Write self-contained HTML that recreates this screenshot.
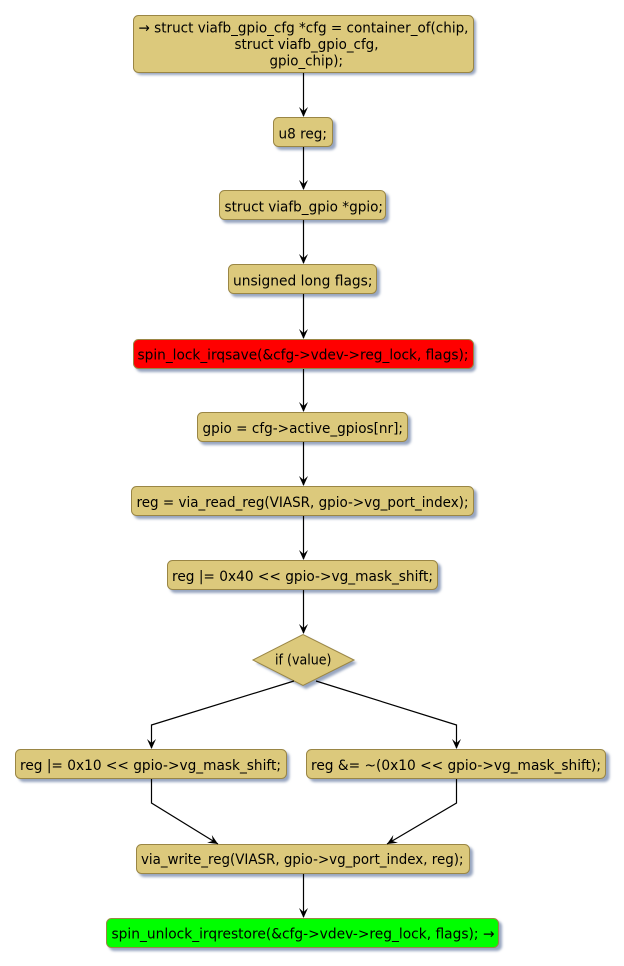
<!DOCTYPE html>
<html><head><meta charset="utf-8"><style>
html,body{margin:0;padding:0;background:#fff;}
svg{display:block;}
text{font-family:"DejaVu Sans","Liberation Sans",sans-serif;font-size:14px;fill:#000;}
</style></head><body>
<svg width="624" height="966" viewBox="0 0 624 966" xmlns="http://www.w3.org/2000/svg">
<defs>
<filter id="sh" x="-10%" y="-20%" width="130%" height="160%">
<feGaussianBlur stdDeviation="1.3"/>
</filter>
</defs>
<!-- shadows -->
<g fill="#97a5c0" filter="url(#sh)">
<rect x="136" y="18" width="340" height="57" rx="5"/>
<rect x="276" y="120" width="60" height="30" rx="5"/>
<rect x="222" y="193" width="167" height="30" rx="5"/>
<rect x="231" y="267" width="149" height="30" rx="5"/>
<rect x="136" y="342" width="340" height="30" rx="5"/>
<rect x="200" y="415" width="211" height="30" rx="5"/>
<rect x="134" y="489" width="343" height="30" rx="5"/>
<rect x="170" y="563" width="271" height="30" rx="5"/>
<polygon points="256,663 306,637 357,663 306,689"/>
<rect x="18.5" y="752" width="271" height="30" rx="5"/>
<rect x="309.5" y="752" width="300" height="30" rx="5"/>
<rect x="139" y="847" width="334" height="30" rx="5"/>
<rect x="109" y="921" width="393" height="30" rx="5"/>
</g>
<!-- boxes -->
<g fill="#dcc97c" stroke="#9a8645" stroke-width="1">
<rect x="133.5" y="15.5" width="340" height="57" rx="5"/>
<rect x="273.5" y="117.5" width="59" height="29" rx="5"/>
<rect x="219.5" y="190.5" width="166" height="29" rx="5"/>
<rect x="228.5" y="264.5" width="148" height="29" rx="5"/>
<rect x="133.5" y="339.5" width="340" height="29" rx="5" fill="#ff0000"/>
<rect x="197.5" y="412.5" width="210" height="29" rx="5"/>
<rect x="131.5" y="486.5" width="342" height="29" rx="5"/>
<rect x="167.5" y="560.5" width="270" height="29" rx="5"/>
<polygon points="253,660 303,634.5 354,660 303,685.5"/>
<rect x="15.5" y="749.5" width="271" height="29" rx="5"/>
<rect x="306.5" y="749.5" width="299" height="29" rx="5"/>
<rect x="136.5" y="844.5" width="333" height="29" rx="5"/>
<rect x="106.5" y="918.5" width="392" height="29" rx="5" fill="#00ff00"/>
</g>
<!-- connectors -->
<g stroke="#000" stroke-width="1.2" fill="none">
<line x1="303.5" y1="73" x2="303.5" y2="116"/>
<line x1="303.5" y1="147" x2="303.5" y2="189"/>
<line x1="303.5" y1="220" x2="303.5" y2="263"/>
<line x1="303.5" y1="294" x2="303.5" y2="338"/>
<line x1="303.5" y1="369" x2="303.5" y2="411"/>
<line x1="303.5" y1="442" x2="303.5" y2="485"/>
<line x1="303.5" y1="516" x2="303.5" y2="559"/>
<line x1="303.5" y1="590" x2="303.5" y2="633"/>
<line x1="303.5" y1="874" x2="303.5" y2="917"/>
<polyline points="294,681 151.5,725 151.5,748"/>
<polyline points="316,681 456.5,725 456.5,748"/>
<polyline points="151.5,779 151.5,803 218,844"/>
<polyline points="456.5,779 456.5,803 387,844"/>
</g>
<g fill="#000">
<path d="M0,0 L-4.5,-10 L0,-6 L4.5,-10 Z" transform="translate(303.5,117)"/>
<path d="M0,0 L-4.5,-10 L0,-6 L4.5,-10 Z" transform="translate(303.5,190)"/>
<path d="M0,0 L-4.5,-10 L0,-6 L4.5,-10 Z" transform="translate(303.5,264)"/>
<path d="M0,0 L-4.5,-10 L0,-6 L4.5,-10 Z" transform="translate(303.5,339)"/>
<path d="M0,0 L-4.5,-10 L0,-6 L4.5,-10 Z" transform="translate(303.5,412)"/>
<path d="M0,0 L-4.5,-10 L0,-6 L4.5,-10 Z" transform="translate(303.5,486)"/>
<path d="M0,0 L-4.5,-10 L0,-6 L4.5,-10 Z" transform="translate(303.5,560)"/>
<path d="M0,0 L-4.5,-10 L0,-6 L4.5,-10 Z" transform="translate(303.5,634)"/>
<path d="M0,0 L-4.5,-10 L0,-6 L4.5,-10 Z" transform="translate(303.5,918)"/>
<path d="M0,0 L-4.5,-10 L0,-6 L4.5,-10 Z" transform="translate(151.5,749)"/>
<path d="M0,0 L-4.5,-10 L0,-6 L4.5,-10 Z" transform="translate(456.5,749)"/>
<path d="M0,0 L-4.5,-10 L0,-6 L4.5,-10 Z" transform="translate(218,844) rotate(-58.5)"/>
<path d="M0,0 L-4.5,-10 L0,-6 L4.5,-10 Z" transform="translate(387,844) rotate(59.3)"/>
</g>
<!-- labels -->
<g>
<text x="138.5" y="32.5" textLength="330" lengthAdjust="spacingAndGlyphs">→ struct viafb_gpio_cfg *cfg = container_of(chip,</text>
<text x="234.5" y="49" textLength="144" lengthAdjust="spacingAndGlyphs">struct viafb_gpio_cfg,</text>
<text x="269.5" y="65.5" textLength="73.5" lengthAdjust="spacingAndGlyphs">gpio_chip);</text>
<text x="278.5" y="138.5" textLength="48.5" lengthAdjust="spacingAndGlyphs">u8 reg;</text>
<text x="224.5" y="211.5" textLength="158.5" lengthAdjust="spacingAndGlyphs">struct viafb_gpio *gpio;</text>
<text x="233" y="285.5" textLength="139.5" lengthAdjust="spacingAndGlyphs">unsigned long flags;</text>
<text x="137.5" y="359.5" textLength="331" lengthAdjust="spacingAndGlyphs">spin_lock_irqsave(&amp;cfg-&gt;vdev-&gt;reg_lock, flags);</text>
<text x="202.5" y="433" textLength="200.5" lengthAdjust="spacingAndGlyphs">gpio = cfg-&gt;active_gpios[nr];</text>
<text x="136.5" y="507" textLength="332" lengthAdjust="spacingAndGlyphs">reg = via_read_reg(VIASR, gpio-&gt;vg_port_index);</text>
<text x="172" y="581" textLength="261" lengthAdjust="spacingAndGlyphs">reg |= 0x40 &lt;&lt; gpio-&gt;vg_mask_shift;</text>
<text x="275" y="664.5" textLength="56.5" lengthAdjust="spacingAndGlyphs">if (value)</text>
<text x="20" y="770" textLength="261" lengthAdjust="spacingAndGlyphs">reg |= 0x10 &lt;&lt; gpio-&gt;vg_mask_shift;</text>
<text x="311" y="770" textLength="290" lengthAdjust="spacingAndGlyphs">reg &amp;= ~(0x10 &lt;&lt; gpio-&gt;vg_mask_shift);</text>
<text x="141" y="864" textLength="322.5" lengthAdjust="spacingAndGlyphs">via_write_reg(VIASR, gpio-&gt;vg_port_index, reg);</text>
<text x="111.5" y="938.5" textLength="383" lengthAdjust="spacingAndGlyphs">spin_unlock_irqrestore(&amp;cfg-&gt;vdev-&gt;reg_lock, flags); →</text>
</g>
</svg>
</body></html>
